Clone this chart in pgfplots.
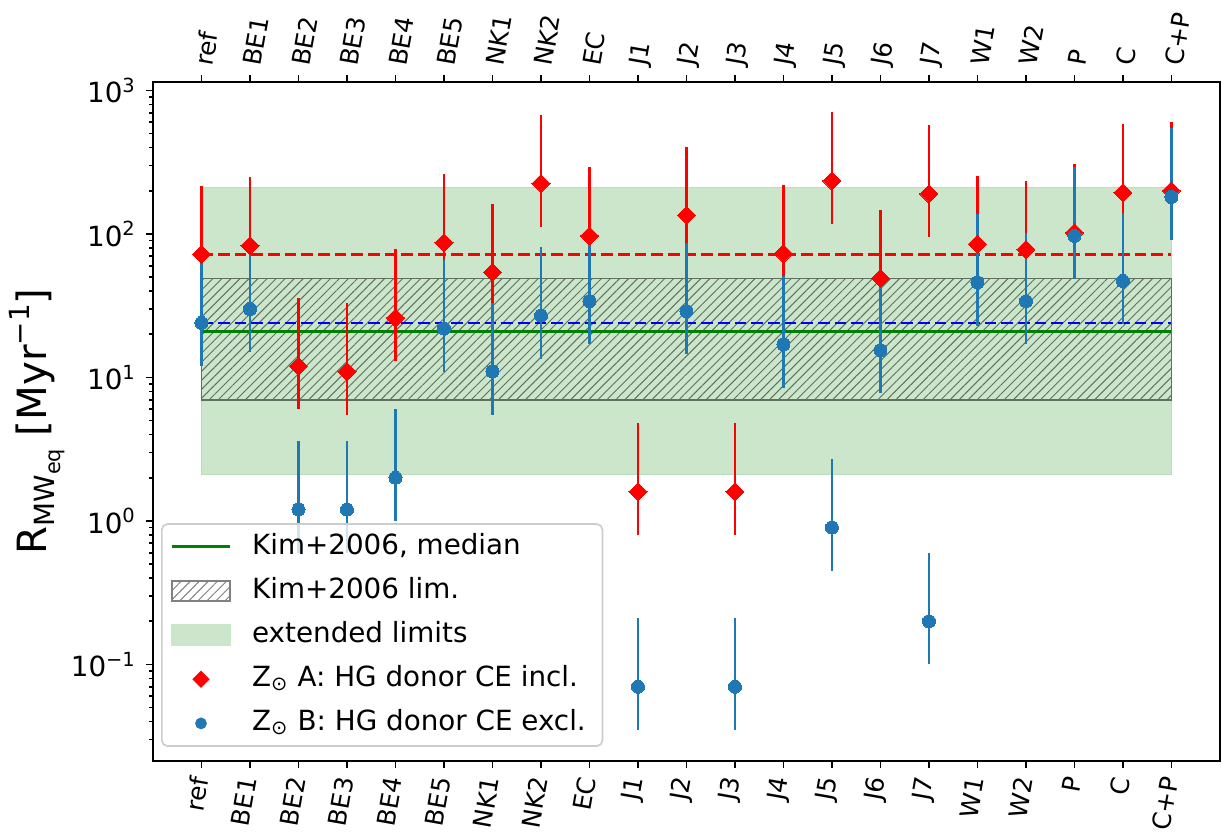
\documentclass[border=0pt]{standalone}
\usepackage{pgfplots}
\pgfplotsset{compat=1.18}
\usepackage{pgfplotstable}
\usepackage{fontspec}
\setmainfont{DejaVu Sans}
\usetikzlibrary{patterns.meta}
\definecolor{mplblue}{RGB}{31,119,180}
\definecolor{mplgreen}{RGB}{0,128,0}
\definecolor{extgreen}{RGB}{204,230,204}
\definecolor{extedge}{RGB}{188,220,188}
\definecolor{hatchc}{RGB}{95,112,95}
\definecolor{hatchleg}{RGB}{128,128,128}
\definecolor{legedge}{RGB}{204,204,204}

\pgfplotstableread{
x y ep em
0 72 144 36
1 83 166 41.5
2 12 24 6
3 11 22 5.5
4 26 52 13
5 87 174 43.5
6 54 108 27
7 225 450 112.5
8 97 194 48.5
9 1.6 3.2 0.8
10 135 270 67.5
11 1.6 3.2 0.8
12 73 146 36.5
13 234 468 117
14 49 98 24.5
15 190 380 95
16 85 170 42.5
17 78 156 39
18 102 204 51
19 194 388 97
20 200 400 100
}\redA

\pgfplotstableread{
x y ep em
0 24 48 12
1 30 60 15
2 1.2 2.4 0.6
3 1.2 2.4 0.6
4 2.0 4.0 1.0
5 22 44 11
6 11 22 5.5
7 27 54 13.5
8 34 68 17
9 0.07 0.14 0.035
10 29 58 14.5
11 0.07 0.14 0.035
12 17 34 8.5
13 0.9 1.8 0.45
14 15.5 31 7.75
15 0.2 0.4 0.1
16 46 92 23
17 34 68 17
18 97 194 48.5
19 47 94 23.5
20 181 362 90.5
}\blueB

\def\cats{ref,BE1,BE2,BE3,BE4,BE5,NK1,NK2,EC,J1,J2,J3,J4,J5,J6,J7,W1,W2,P,C,C+P}

\begin{document}
\begin{tikzpicture}
\useasboundingbox (-55.08pt,-26.64pt) rectangle (384.84pt,273.9pt);
\begin{axis}[
  scale only axis, width=384.1pt, height=244.4pt,
  xmin=-1, xmax=21, ymin=0.0213, ymax=1146, ymode=log,
  xtick={0,...,20}, xticklabels/.expand once={\cats},
  xtick pos=bottom, ytick pos=left,
  tick align=outside,
  major tick length=2.5pt, minor tick length=1.4pt,
  ytick={0.1,1,10,100,1000},
  yticklabels={10\textsuperscript{−1},10\textsuperscript{0},10\textsuperscript{1},10\textsuperscript{2},10\textsuperscript{3}},
  minor ytick={0.03,0.04,0.05,0.06,0.07,0.08,0.09,0.2,0.3,0.4,0.5,0.6,0.7,0.8,0.9,2,3,4,5,6,7,8,9,20,30,40,50,60,70,80,90,200,300,400,500,600,700,800,900},
  every tick/.style={black, line width=0.6pt},
  axis line style={line width=0.6pt},
  xticklabel style={rotate=80, anchor=east, font=\fontsize{9}{10}\selectfont},
  yticklabel style={font=\fontsize{10}{12}\selectfont},
  ylabel={R{\fontsize{10}{10}\selectfont\raisebox{-3.2pt}{MW\raisebox{-2pt}{\fontsize{7.5}{8}\selectfont eq}}} [Myr{\fontsize{10}{10}\selectfont\raisebox{6pt}{−1}}]},
  ylabel style={at={(axis description cs:-0.1087,0.5)}, anchor=center, font=\fontsize{14.5}{16}\selectfont},
  legend style={at={(0.0075,0.0206)}, anchor=south west,
    font=\fontsize{10}{12}\selectfont, draw=legedge, line width=0.6pt,
    rounded corners=2pt, fill=white, fill opacity=0.8, draw opacity=1, text opacity=1,
    inner xsep=3pt, inner ysep=3.5pt, row sep=6.6pt,
    nodes={inner xsep=3pt, inner ysep=0pt, text height=7.3pt, text depth=2pt},
    /tikz/every odd column/.append style={column sep=4.3pt},
    cells={anchor=west}},
  legend cell align=left,
]
\addlegendimage{legend image code/.code={\path (0pt,0pt) (21pt,0pt); \draw[mplgreen, line width=1.2pt, sharp corners, draw opacity=1] (0pt,0pt) -- (21pt,0pt);}}
\addlegendentry{Kim+2006, median}
\addlegendimage{legend image code/.code={\draw[sharp corners, draw=hatchleg, line width=0.5pt, draw opacity=1, fill opacity=1, pattern={Lines[angle=45,distance=2.3pt,line width=0.35pt]}, pattern color=hatchleg] (0pt,-3.6pt) rectangle (21pt,3.6pt);}}
\addlegendentry{Kim+2006 lim.}
\addlegendimage{legend image code/.code={\fill[sharp corners, extgreen, fill opacity=1] (0pt,-3.6pt) rectangle (21pt,3.6pt);}}
\addlegendentry{extended limits}
\addlegendimage{legend image code/.code={\path (0pt,0pt) (21pt,0pt); \fill[red, fill opacity=1, sharp corners] (10.5pt,2.7pt) -- (13.2pt,0pt) -- (10.5pt,-2.7pt) -- (7.8pt,0pt) -- cycle;}}
\addlegendentry{Z\textsubscript{⊙} A: HG donor CE incl.}
\addlegendimage{legend image code/.code={\path (0pt,0pt) (21pt,0pt); \fill[mplblue, fill opacity=1] (10.5pt,0pt) circle (1.8pt);}}
\addlegendentry{Z\textsubscript{⊙} B: HG donor CE excl.}

% extended limits
\addplot[forget plot, fill=extgreen, draw=extedge, line width=0.5pt] coordinates {(0,2.1) (20,2.1) (20,210) (0,210) (0,2.1)};
% Kim+2006 limits (hatched)
\addplot[forget plot, draw=hatchc, line width=0.6pt, pattern={Lines[angle=45,distance=2.3pt,line width=0.35pt]}, pattern color=hatchc] coordinates {(0,7) (20,7) (20,49) (0,49) (0,7)};
% median and reference lines
\addplot[forget plot, mplgreen, line width=1.2pt] coordinates {(0,21) (20,21)};
\addplot[forget plot, red, line width=0.85pt, dash pattern=on 4.2pt off 1.8pt] coordinates {(0,72) (20,72)};
\addplot[forget plot, blue, line width=0.85pt, dash pattern=on 4.2pt off 1.8pt] coordinates {(0,24) (20,24)};
% error bars
\addplot[forget plot, red, only marks, mark=none, error bars/.cd, y dir=both, y explicit, error mark=none, error bar style={line width=0.85pt, red}]
  table[x=x, y=y, y error plus=ep, y error minus=em] {\redA};
\addplot[forget plot, mplblue, only marks, mark=none, error bars/.cd, y dir=both, y explicit, error mark=none, error bar style={line width=0.85pt, mplblue}]
  table[x=x, y=y, y error plus=ep, y error minus=em] {\blueB};
% markers
\addplot[forget plot, red, only marks, mark=square*, mark size=2.3pt, mark options={rotate=45, fill=red, draw=red, line width=0pt}] table[x=x, y=y] {\redA};
\addplot[forget plot, mplblue, only marks, mark=*, mark size=2.35pt, mark options={fill=mplblue, draw=mplblue, line width=0pt}] table[x=x, y=y] {\blueB};
\end{axis}
\begin{axis}[
  scale only axis, width=384.1pt, height=244.4pt,
  xmin=-1, xmax=21, ymin=0.0213, ymax=1146, ymode=log,
  axis x line*=top, axis y line=none,
  xtick={0,...,20}, xticklabels/.expand once={\cats},
  tick align=outside, major tick length=2.5pt,
  every tick/.style={black, line width=0.6pt},
  axis line style={line width=0.6pt},
  xticklabel style={rotate=80, anchor=west, font=\fontsize{9}{10}\selectfont},
]
\addplot[draw=none, forget plot] coordinates {(0,1)};
\end{axis}
\end{tikzpicture}
\end{document}
